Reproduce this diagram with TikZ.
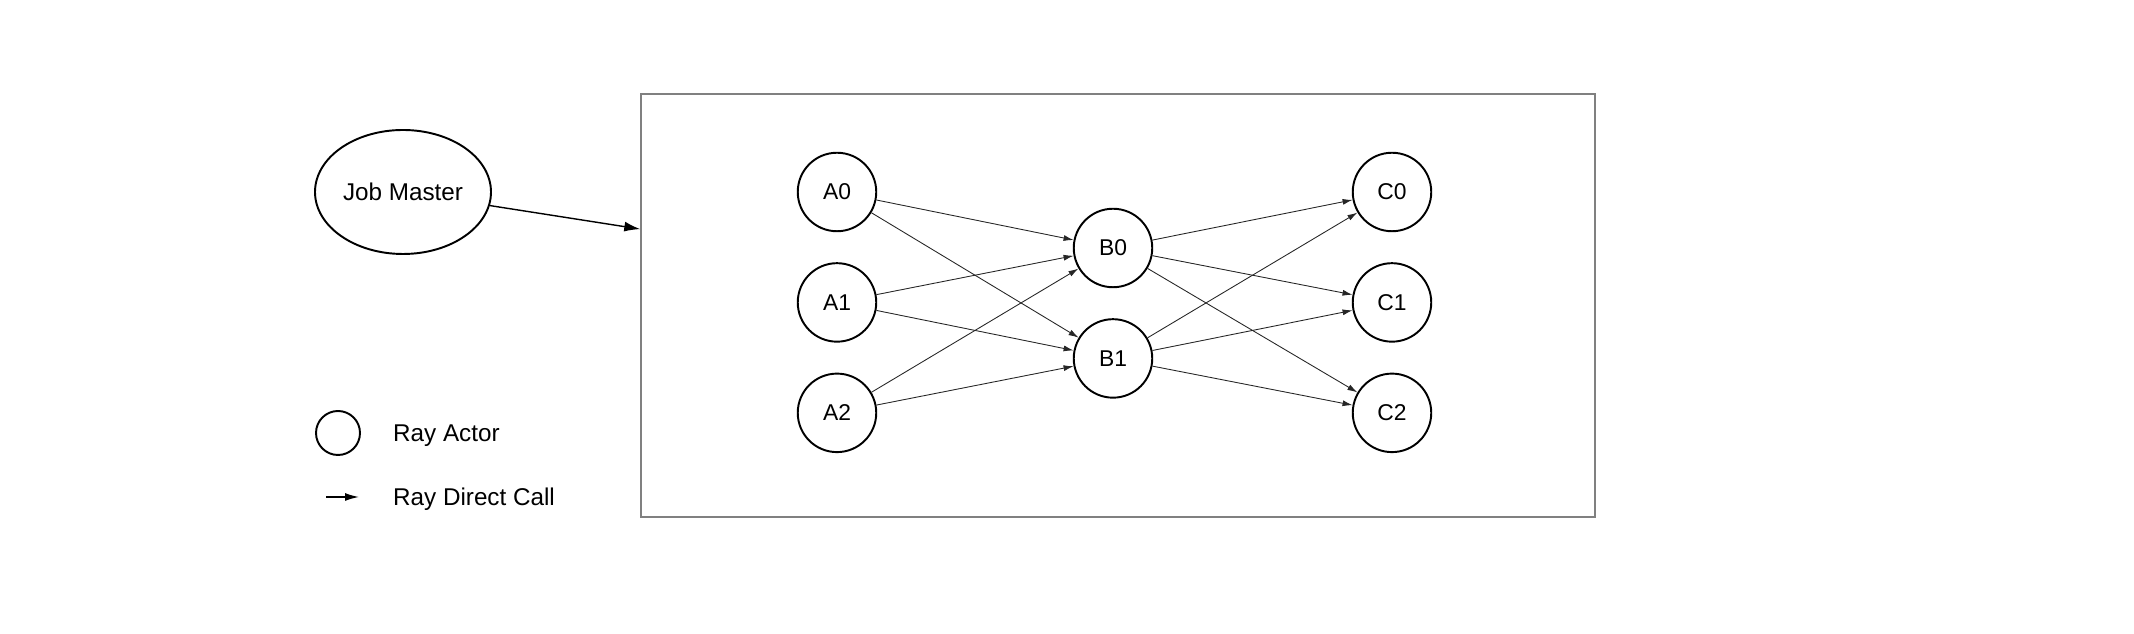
\documentclass[tikz,border=0pt]{standalone}
\usepackage{fontspec}
\setmainfont{Liberation Sans}
\usetikzlibrary{positioning}
\usetikzlibrary{shapes.geometric,arrows.meta,calc}

\tikzset{
  actor/.style={circle, draw, line width=1.1pt, minimum size=1.57cm, inner sep=0pt,
                font=\fontsize{13}{15}\selectfont},
  call/.style={-{Latex[length=0.2cm,width=0.12cm]}, line width=0.5pt, draw=black!85},
}

\begin{document}
\begin{tikzpicture}

\useasboundingbox (0,0) rectangle (42.68,12.68);

% job master and the worker group
\node[ellipse, draw, line width=1.1pt, minimum width=3.52cm, minimum height=2.48cm,
      label={[font=\fontsize{13.8}{16}\selectfont]center:Job Master}] (jobmaster) at (8.06,8.84) {};

\node[rectangle, draw=black!50, line width=0.8pt, minimum width=19.08cm, minimum height=8.46cm,
      inner sep=0pt] (group) at (22.36,6.57) {};

\coordinate (groupin) at ($(group.north west)!0.32!(group.south west)$);

\draw[-{Latex[length=0.32cm,width=0.2cm]}, line width=0.8pt] (jobmaster) -- (groupin);

% actors A
\node[actor] (a0) at (16.74,8.84) {A0};

\node[actor, below=0.6cm of a0] (a1) {A1};

\node[actor, below=0.6cm of a1] (a2) {A2};

% actors B
\node[actor] (b0) at (22.26,7.72) {B0};

\node[actor, below=0.6cm of b0] (b1) {B1};

% actors C
\node[actor] (c0) at (27.84,8.84) {C0};

\node[actor, below=0.6cm of c0] (c1) {C1};

\node[actor, below=0.6cm of c1] (c2) {C2};

% calls
\draw[call] (a0) -- (b0);
\draw[call] (a0) -- (b1);
\draw[call] (a1) -- (b0);
\draw[call] (a1) -- (b1);
\draw[call] (a2) -- (b0);
\draw[call] (a2) -- (b1);

\draw[call] (b0) -- (c0);
\draw[call] (b0) -- (c1);
\draw[call] (b0) -- (c2);
\draw[call] (b1) -- (c0);
\draw[call] (b1) -- (c1);
\draw[call] (b1) -- (c2);

% legend
\node[circle, draw, line width=1.1pt, minimum size=0.88cm, inner sep=0pt] (legactor) at (6.76,4.02) {};

\node[anchor=west, font=\fontsize{13.8}{16}\selectfont] (legactortext) at (7.74,3.96) {Ray Actor};

\coordinate (legfrom) at (6.52,2.74);
\coordinate (legto) at (7.18,2.74);

\draw[-{Latex[length=0.28cm,width=0.16cm]}, line width=0.8pt] (legfrom) -- (legto);

\node[anchor=west, font=\fontsize{13.8}{16}\selectfont] (legcalltext) at (7.74,2.7) {Ray Direct Call};

\end{tikzpicture}
\end{document}
